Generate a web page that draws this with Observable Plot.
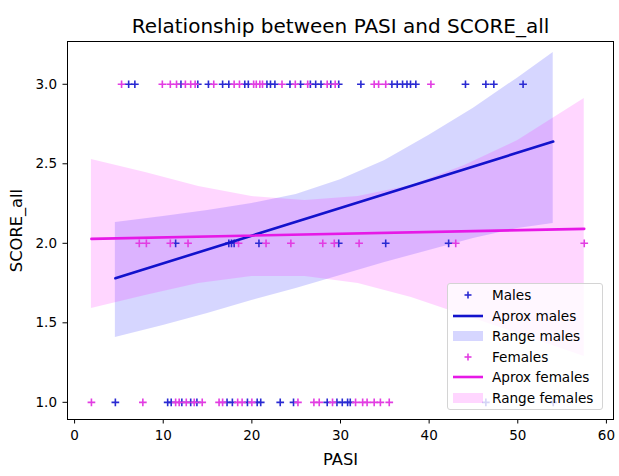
<!DOCTYPE html>
<html>
<head>
<meta charset="utf-8">
<script src="https://cdn.jsdelivr.net/npm/d3@7"></script>
<script src="https://cdn.jsdelivr.net/npm/@observablehq/plot@0.6"></script>
<style>
  body { margin: 0; background: #fff; font-family: "DejaVu Sans", sans-serif; }
  #wrap { position: relative; width: 619px; height: 476px; overflow: hidden; }
  #legend { position: absolute; left: 447px; top: 283px; width: 154px; height: 125px;
            border: 1px solid #d4d4d4; border-radius: 3px; background: rgba(255,255,255,0.8); }
  .row { position: absolute; left: 0; height: 20px; width: 154px; }
  .row svg { position: absolute; left: 5px; top: 0; }
  .row span { position: absolute; left: 44px; top: 0; line-height: 20px; font-size: 13.6px; color: #000; white-space: nowrap; }
</style>
</head>
<body>
<div id="wrap"></div>
<script>
// ---------- data (PASI values) ----------
const title = "Relationship between PASI and SCORE_all";
const xLabel = "PASI";
const yLabel = "SCORE_all";
const xTicks = [0, 10, 20, 30, 40, 50, 60];
const yTicks = [1.0, 1.5, 2.0, 2.5, 3.0];

// males
const maleScore3 = [6.1, 6.8, 12.0, 13.9, 15.1, 16.7, 17.4, 19.2, 19.6, 21.7, 22.1, 22.6, 24.3, 25.5, 26.6, 27.2, 27.8, 28.9, 29.8, 32.3, 35.8, 36.4, 37.0, 37.5, 37.9, 38.5, 44.1, 46.4, 47.3, 50.6];
const maleScore2 = [11.4, 17.4, 17.7, 18.0, 20.8, 29.8, 35.1, 42.2];
const maleScore1 = [4.6, 10.5, 10.9, 12.1, 13.1, 13.8, 17.2, 17.8, 19.5, 20.6, 21.0, 23.2, 24.7, 28.5, 29.6, 30.2, 30.8, 31.1, 46.4, 54.0];
// females
const femaleScore3 = [5.3, 9.9, 10.8, 11.5, 12.5, 13.1, 13.6, 15.7, 18.0, 18.6, 20.2, 20.5, 20.9, 21.2, 23.4, 24.9, 26.3, 28.5, 29.4, 33.8, 34.3, 35.1, 40.2];
const femaleScore2 = [7.3, 8.1, 10.8, 12.8, 18.5, 21.6, 24.4, 28.0, 29.3, 32.1, 43.0, 57.5];
const femaleScore1 = [1.9, 7.7, 11.4, 11.8, 12.6, 13.5, 14.4, 16.3, 16.7, 18.4, 18.9, 20.0, 25.2, 27.0, 27.6, 29.1, 31.7, 32.5, 33.0, 33.8, 34.5, 35.5];

// fitted lines (end points)
const maleFitX = [4.6, 54.0];
const maleFitY = [1.78, 2.64];
const femaleFitX = [1.9, 57.5];
const femaleFitY = [2.028, 2.091];

// confidence ranges
const maleBandX     = [4.6, 10, 15, 20, 25, 30, 35, 40, 45, 50, 54];
const maleBandUpper = [2.131, 2.168, 2.206, 2.250, 2.307, 2.400, 2.520, 2.680, 2.850, 3.040, 3.200];
const maleBandLower = [1.407, 1.483, 1.558, 1.640, 1.716, 1.797, 1.879, 1.955, 2.030, 2.093, 2.124];
const femaleBandX     = [1.9, 8, 14, 20, 26, 32, 38, 44, 50, 57.5];
const femaleBandUpper = [2.527, 2.445, 2.357, 2.294, 2.269, 2.294, 2.363, 2.489, 2.646, 2.910];
const femaleBandLower = [1.590, 1.672, 1.747, 1.791, 1.791, 1.747, 1.659, 1.546, 1.433, 1.288];

const legendLabels = ["Males", "Aprox males", "Range males", "Females", "Aprox females", "Range females"];

// ---------- styles ----------
const maleDot = "#2a2ad2", femaleDot = "#e23de2";
const maleLine = "#1212cc", femaleLine = "#e619e6";
const maleFill = "#0000ff", femaleFill = "#ff00ff", bandOpacity = 0.16;

// ---------- tables ----------
const pts = (arr, s) => arr.map(x => ({x, s}));
const males = [...pts(maleScore3, 3), ...pts(maleScore2, 2), ...pts(maleScore1, 1)];
const females = [...pts(femaleScore3, 3), ...pts(femaleScore2, 2), ...pts(femaleScore1, 1)];
const maleFit = maleFitX.map((x, i) => ({x, y: maleFitY[i]}));
const femaleFit = femaleFitX.map((x, i) => ({x, y: femaleFitY[i]}));
const maleBand = maleBandX.map((x, i) => ({x, lo: maleBandLower[i], hi: maleBandUpper[i]}));
const femaleBand = femaleBandX.map((x, i) => ({x, lo: femaleBandLower[i], hi: femaleBandUpper[i]}));

const chart = Plot.plot({
  width: 619, height: 476,
  marginLeft: 67, marginRight: 6, marginTop: 41, marginBottom: 57,
  style: {fontFamily: "DejaVu Sans, sans-serif", fontSize: "13.5px", color: "#000", background: "#fff"},
  x: {domain: [-0.8, 60.8]},
  y: {domain: [0.892, 3.269]},
  marks: [
    Plot.areaY(maleBand, {x: "x", y1: "lo", y2: "hi", fill: maleFill, fillOpacity: bandOpacity}),
    Plot.areaY(femaleBand, {x: "x", y1: "lo", y2: "hi", fill: femaleFill, fillOpacity: bandOpacity}),
    Plot.dot(males, {x: "x", y: "s", symbol: "plus", r: 2.6, stroke: maleDot, strokeWidth: 1.6}),
    Plot.dot(females, {x: "x", y: "s", symbol: "plus", r: 2.6, stroke: femaleDot, strokeWidth: 1.6}),
    Plot.line(maleFit, {x: "x", y: "y", stroke: maleLine, strokeWidth: 2.6}),
    Plot.line(femaleFit, {x: "x", y: "y", stroke: femaleLine, strokeWidth: 2.6}),
    Plot.frame({stroke: "#000", strokeWidth: 1}),
    Plot.axisX({ticks: xTicks, tickSize: 4.5, tickPadding: 6, fontSize: 13.5, tickFormat: d3.format("d"),
                label: xLabel, labelAnchor: "center", labelOffset: 45, labelArrow: "none"}),
    Plot.axisY({ticks: yTicks, tickSize: 4.5, tickPadding: 6, fontSize: 13.5, tickFormat: d3.format(".1f"),
                label: yLabel, labelAnchor: "center", labelOffset: 57, labelArrow: "none"}),
    Plot.text([title], {text: d => d, frameAnchor: "top", lineAnchor: "bottom", dy: -8.5, fontSize: 20, fill: "#000"})
  ]
});
chart.querySelectorAll("[aria-label='x-axis label'] text, [aria-label='y-axis label'] text").forEach(t => t.setAttribute("font-size", "16.3"));
const wrap = document.getElementById("wrap");
wrap.appendChild(chart);

// ---------- legend ----------
const legend = document.createElement("div");
legend.id = "legend";
const rowCenters = [11, 31.6, 52.2, 72.8, 93.4, 114];
const swatch = [
  `<line x1="11.5" x2="18.5" y1="10" y2="10" stroke="${maleDot}" stroke-width="1.6"/><line x1="15" x2="15" y1="6.5" y2="13.5" stroke="${maleDot}" stroke-width="1.6"/>`,
  `<line x1="0" x2="30" y1="10" y2="10" stroke="${maleLine}" stroke-width="2.6"/>`,
  `<rect x="0" y="5" width="30" height="10" fill="${maleFill}" fill-opacity="${bandOpacity}"/>`,
  `<line x1="11.5" x2="18.5" y1="10" y2="10" stroke="${femaleDot}" stroke-width="1.6"/><line x1="15" x2="15" y1="6.5" y2="13.5" stroke="${femaleDot}" stroke-width="1.6"/>`,
  `<line x1="0" x2="30" y1="10" y2="10" stroke="${femaleLine}" stroke-width="2.6"/>`,
  `<rect x="0" y="5" width="30" height="10" fill="${femaleFill}" fill-opacity="${bandOpacity}"/>`
];
legendLabels.forEach((lab, i) => {
  const r = document.createElement("div");
  r.className = "row";
  r.style.top = (rowCenters[i] - 10) + "px";
  r.innerHTML = `<svg width="32" height="20">${swatch[i]}</svg><span>${lab}</span>`;
  legend.appendChild(r);
});
wrap.appendChild(legend);
</script>
</body>
</html>
